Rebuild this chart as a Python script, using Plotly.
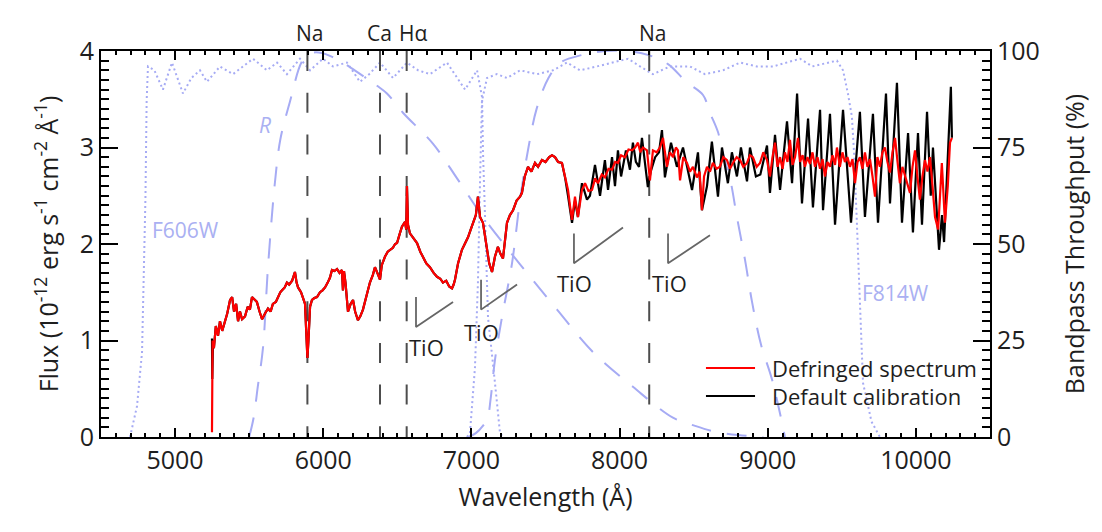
import plotly.graph_objects as go

# ---------------- data ----------------
wave_start_red = [5249, 5253]
flux_start_red = [0.05, 1.0]
wave_start_black = [5249, 5251, 5256]
flux_start_black = [1.02, 0.6, 1.0]

wave_common = [5262, 5275, 5290, 5303, 5318, 5337, 5352, 5371, 5385, 5398, 5412, 5425, 5438, 5452,
               5472, 5490, 5505, 5519, 5535, 5552, 5570, 5587, 5607, 5627, 5645, 5660, 5680, 5695,
               5710, 5722, 5740, 5755, 5770, 5790, 5809, 5820, 5830, 5850, 5863, 5877, 5885, 5893,
               5900, 5911, 5924, 5940, 5958, 5978, 5995, 6012, 6030, 6045, 6059, 6075, 6093, 6110,
               6126, 6133, 6140, 6150, 6167, 6185, 6201, 6215, 6234, 6250, 6268, 6290, 6315, 6335,
               6349, 6365, 6383, 6395, 6417, 6435, 6450, 6470, 6485, 6498, 6515, 6531, 6552, 6560,
               6565, 6572, 6585, 6600, 6615, 6633, 6655, 6673, 6695, 6720, 6745, 6768, 6790, 6808,
               6830, 6850, 6869, 6880, 6889, 6910, 6936, 6955, 6977, 6995, 7011, 7030, 7044, 7058,
               7078, 7090, 7105, 7120, 7139, 7159, 7179, 7195, 7213, 7240, 7260, 7281, 7305, 7328,
               7341, 7360, 7382, 7405, 7429, 7450, 7476, 7500, 7525, 7544, 7564, 7585, 7611]
flux_common = [0.92, 1.15, 1.05, 1.2, 1.1, 1.2, 1.28, 1.42, 1.45, 1.3, 1.38, 1.2, 1.3, 1.22,
               1.25, 1.35, 1.32, 1.45, 1.42, 1.4, 1.3, 1.22, 1.28, 1.33, 1.3, 1.38, 1.4, 1.45,
               1.5, 1.52, 1.55, 1.6, 1.58, 1.62, 1.71, 1.6, 1.55, 1.5, 1.45, 1.38, 1.1, 0.82,
               1.0, 1.35, 1.42, 1.44, 1.45, 1.5, 1.52, 1.55, 1.6, 1.65, 1.73, 1.72, 1.74, 1.7,
               1.73, 1.52, 1.72, 1.6, 1.3, 1.38, 1.42, 1.3, 1.21, 1.25, 1.32, 1.45, 1.6, 1.68,
               1.76, 1.7, 1.63, 1.78, 1.87, 1.92, 1.94, 1.96, 2.0, 2.01, 2.1, 2.18, 2.23, 2.15,
               2.6, 2.2, 2.11, 2.08, 2.05, 2.01, 1.92, 1.87, 1.8, 1.76, 1.7, 1.66, 1.64, 1.6,
               1.62, 1.56, 1.54, 1.58, 1.63, 1.8, 1.94, 2.0, 2.07, 2.15, 2.22, 2.3, 2.49, 2.28,
               2.22, 2.1, 1.94, 1.8, 1.71, 1.87, 1.97, 1.9, 1.85, 2.22, 2.3, 2.35, 2.45, 2.49,
               2.53, 2.7, 2.8, 2.75, 2.84, 2.8, 2.87, 2.85, 2.9, 2.92, 2.9, 2.85, 2.84]

wave_fringe_red = [7632, 7652, 7665, 7679, 7699, 7719, 7746, 7767, 7790, 7814, 7835, 7854, 7880, 7901,
                   7925, 7949, 7970, 7989, 8010, 8036, 8060, 8084, 8105, 8124, 8140, 8158, 8185, 8205,
                   8225, 8250, 8273, 8293, 8320, 8340, 8361, 8380, 8394, 8408, 8430, 8455, 8475, 8495,
                   8522, 8540, 8556, 8570, 8590, 8610, 8630, 8655, 8677, 8700, 8725, 8745, 8765, 8790,
                   8813, 8835, 8860, 8880, 8900, 8925, 8948, 8970, 8995, 9015, 9032, 9049, 9066, 9083,
                   9100, 9116, 9133, 9150, 9167, 9184, 9204, 9218, 9235, 9251, 9268, 9285, 9302, 9319,
                   9336, 9353, 9370, 9386, 9403, 9420, 9437, 9454, 9467, 9487, 9504, 9521, 9538, 9555,
                   9572, 9589, 9606, 9622, 9639, 9656, 9673, 9690, 9707, 9724, 9740, 9757, 9774, 9791,
                   9808, 9825, 9842, 9859, 9876, 9892, 9909, 9926, 9943, 9960, 9977, 9994, 10010, 10027,
                   10044, 10061, 10078, 10095, 10112, 10129, 10150, 10175, 10196, 10215, 10230, 10243]
flux_fringe_red = [2.69, 2.56, 2.4, 2.25, 2.49, 2.28, 2.56, 2.63, 2.55, 2.56, 2.68, 2.63, 2.72, 2.69,
                   2.78, 2.77, 2.85, 2.84, 2.92, 2.9, 2.98, 2.97, 3.0, 3.05, 2.95, 3.0, 2.97, 2.66,
                   2.97, 2.95, 3.0, 3.1, 2.8, 2.95, 2.9, 3.0, 2.97, 2.66, 2.9, 2.84, 2.75, 2.8,
                   2.69, 2.75, 2.35, 2.7, 2.8, 2.75, 2.84, 2.78, 2.8, 2.9, 2.87, 2.78, 2.84, 2.9,
                   2.87, 2.8, 2.84, 2.92, 2.9, 2.8, 2.84, 2.95, 2.87, 2.7, 2.9, 3.05, 2.8, 2.9,
                   2.78, 2.95, 2.85, 3.08, 2.82, 2.9, 3.1, 2.85, 2.92, 2.8, 2.9, 2.83, 2.95, 2.8,
                   2.9, 2.78, 2.88, 2.7, 2.85, 2.8, 2.92, 2.82, 3.0, 2.8, 2.95, 2.85, 2.9, 2.8,
                   2.88, 2.63, 2.85, 2.9, 2.78, 2.95, 2.8, 2.88, 2.7, 2.49, 2.9, 2.8, 2.95, 3.0,
                   2.85, 2.74, 2.95, 3.1, 2.85, 2.63, 2.8, 2.7, 2.6, 2.53, 2.8, 2.97, 2.7, 2.46,
                   2.7, 2.87, 2.75, 2.9, 2.6, 2.28, 2.15, 2.84, 2.22, 2.6, 3.05, 3.1]

wave_fringe_black = [7632, 7652, 7679, 7699, 7719, 7746, 7780, 7800, 7834, 7868, 7901, 7922, 7949, 7969,
                     7989, 8010, 8043, 8070, 8090, 8110, 8131, 8151, 8191, 8210, 8240, 8266, 8286, 8306,
                     8347, 8387, 8428, 8489, 8529, 8556, 8590, 8623, 8664, 8691, 8731, 8758, 8792, 8819,
                     8860, 8880, 8920, 8950, 8995, 9015, 9049, 9083, 9130, 9164, 9198, 9231, 9272, 9305,
                     9353, 9373, 9420, 9454, 9508, 9562, 9622, 9656, 9710, 9744, 9798, 9825, 9872, 9906,
                     9947, 9980, 10014, 10041, 10075, 10100, 10115, 10156, 10176, 10190, 10216, 10236, 10243]
flux_fringe_black = [2.69, 2.5, 2.22, 2.45, 2.28, 2.63, 2.46, 2.5, 2.82, 2.5, 2.87, 2.56, 2.9, 2.6,
                     2.97, 2.7, 2.97, 2.77, 3.05, 2.85, 2.8, 3.1, 2.59, 2.75, 2.9, 2.95, 3.18, 2.69,
                     3.05, 2.8, 3.0, 2.56, 2.95, 2.35, 2.6, 3.06, 2.49, 3.0, 2.63, 2.95, 2.7, 3.0,
                     2.65, 3.0, 2.7, 2.72, 3.02, 2.53, 3.13, 2.56, 3.27, 2.63, 3.56, 2.42, 3.3, 2.38,
                     3.39, 2.35, 3.35, 2.2, 3.39, 2.22, 3.37, 2.28, 3.35, 2.22, 3.56, 2.42, 3.67, 2.22,
                     3.15, 2.12, 3.15, 2.2, 3.37, 2.5, 3.0, 1.94, 2.3, 2.02, 3.0, 3.63, 3.1]

# filter throughputs (%)
f606_wave = [4696, 4743, 4777, 4784, 4790, 4800, 4808, 4817, 4860, 4918, 4979, 5053, 5110, 5168, 5215,
             5303, 5391, 5460, 5526, 5620, 5688, 5755, 5843, 5911, 5998, 6066, 6160, 6248, 6310, 6383,
             6471, 6565, 6640, 6720, 6835, 6957, 7038, 7072, 7078, 7092, 7112, 7159, 7193, 7215]
f606_thr = [0, 8, 22, 35, 48, 62, 87, 96, 95, 90, 97, 89, 93, 95, 92,
            96, 94, 96, 98, 95, 97, 94, 98, 95, 98, 96, 97, 92, 94, 97,
            93, 97, 95, 94, 97, 90, 95, 88, 74, 57, 31, 14, 1, 0]
f814_wave = [6970, 6990, 7024, 7044, 7058, 7071, 7105, 7172, 7240, 7328, 7443, 7551, 7645, 7733, 7847,
             7955, 8057, 8138, 8225, 8340, 8475, 8576, 8698, 8813, 8927, 9035, 9130, 9218, 9300, 9400,
             9467, 9508, 9541, 9568, 9582, 9600, 9622, 9643, 9700, 9757]
f814_thr = [0, 1, 18, 40, 66, 87, 93, 94, 93, 95, 94, 95, 97, 95, 96,
            97, 98, 96, 94, 96, 96, 94, 95, 97, 96, 96, 97, 98, 96, 97,
            97.5, 95, 89, 83, 74, 57, 33, 14, 4, 0]
r_wave = [5500, 5530, 5558, 5593, 5627, 5674, 5710, 5776, 5863, 5924, 5990, 6060, 6133, 6250, 6363,
          6430, 6538, 6740, 6903, 7078, 7281, 7375, 7578, 7820, 8090, 8360, 8500, 8630, 8800, 8970]
r_thr = [0, 5, 13, 23, 44, 66, 77, 87, 97.7, 99.5, 99.5, 98.5, 97, 94, 91,
         89, 84, 76, 67, 57, 47, 42.5, 33, 22, 13, 5, 3, 1.5, 0.5, 0]
i_wave = [6980, 7030, 7080, 7110, 7130, 7159, 7206, 7274, 7330, 7385, 7440, 7520, 7600, 7750, 7900,
          8050, 8190, 8327, 8450, 8563, 8610, 8664, 8700, 8745, 8792, 8846, 8894, 8954, 9028, 9089, 9116]
i_thr = [0, 1, 3, 5, 10, 20, 31, 45, 62, 75, 85, 93, 97, 99, 100,
         100, 99, 96.6, 92, 88.6, 84, 79, 73, 67, 57, 46, 35, 24, 15, 5, 0]

# spectral line markers
line_wave = [5893, 6383, 6563, 8200]
line_label = ["Na", "Ca", "Hα", "Na"]
line_label_wave = [5907, 6380, 6605, 8219]

# TiO band markers
tio_wave = [6626, 7065, 7692, 8327]
tio_top = [1.45, 1.63, 2.11, 2.11]
tio_bottom = [1.14, 1.32, 1.80, 1.80]
tio_end_wave = [6876, 7308, 8023, 8610]
tio_end_flux = [1.40, 1.58, 2.17, 2.09]
tio_text_wave = [6700, 7071, 7699, 8334]
tio_text_flux = [0.93, 1.09, 1.60, 1.60]

FONT = "Open Sans"
BLUE = "#a6abf4"
GRAY = "#4d4d4d"
TXT = "#1e1e1e"

fig = go.Figure()

# filter curves on throughput axis (y)
fig.add_trace(go.Scatter(x=f606_wave, y=f606_thr, mode="lines", yaxis="y",
                         line=dict(color=BLUE, width=2, dash="2px,3px"), showlegend=False))
fig.add_trace(go.Scatter(x=f814_wave, y=f814_thr, mode="lines", yaxis="y",
                         line=dict(color=BLUE, width=2, dash="2px,3px"), showlegend=False))
fig.add_trace(go.Scatter(x=r_wave, y=r_thr, mode="lines", yaxis="y", line_shape="spline",
                         line=dict(color=BLUE, width=2, dash="20px,16px"), showlegend=False))
fig.add_trace(go.Scatter(x=i_wave, y=i_thr, mode="lines", yaxis="y", line_shape="spline",
                         line=dict(color=BLUE, width=2, dash="20px,16px"), showlegend=False))

# vertical dashed line markers (flux axis y2)
for w in line_wave:
    fig.add_trace(go.Scatter(x=[w, w], y=[4, 0], mode="lines", yaxis="y2",
                             line=dict(color=GRAY, width=2, dash="20px,21.7px"), showlegend=False))

# TiO markers
for i in range(len(tio_wave)):
    fig.add_trace(go.Scatter(x=[tio_wave[i], tio_wave[i], tio_end_wave[i]],
                             y=[tio_top[i], tio_bottom[i], tio_end_flux[i]],
                             mode="lines", yaxis="y2",
                             line=dict(color="#666666", width=1.8), showlegend=False))

# spectra
fig.add_trace(go.Scatter(x=wave_start_black + wave_common + wave_fringe_black,
                         y=flux_start_black + flux_common + flux_fringe_black,
                         mode="lines", yaxis="y2", name="Default calibration",
                         line=dict(color="black", width=2.2), showlegend=False))
fig.add_trace(go.Scatter(x=wave_start_red + wave_common + wave_fringe_red,
                         y=flux_start_red + flux_common + flux_fringe_red,
                         mode="lines", yaxis="y2", name="Defringed spectrum",
                         line=dict(color="#ff0000", width=2.2), showlegend=False))

annotations = []
for lw, lab in zip(line_label_wave, line_label):
    annotations.append(dict(x=lw, y=1.047, xref="x", yref="paper", text=lab, showarrow=False,
                            font=dict(family=FONT, size=21, color=TXT),
                            xanchor="center", yanchor="middle"))
for tx, ty in zip(tio_text_wave, tio_text_flux):
    annotations.append(dict(x=tx, y=ty, xref="x", yref="y2", text="TiO", showarrow=False,
                            font=dict(family=FONT, size=22, color=TXT),
                            xanchor="center", yanchor="middle"))
annotations += [
    dict(x=5067, y=2.14, xref="x", yref="y2", text="F606W", showarrow=False,
         font=dict(family=FONT, size=21, color="#aab0f2"), xanchor="center", yanchor="middle"),
    dict(x=9859, y=1.49, xref="x", yref="y2", text="F814W", showarrow=False,
         font=dict(family=FONT, size=21, color="#aab0f2"), xanchor="center", yanchor="middle"),
    dict(x=5607, y=3.23, xref="x", yref="y2", text="<i>R</i>", showarrow=False,
         font=dict(family=FONT, size=21, color="#aab0f2"), xanchor="center", yanchor="middle"),
]

# legend drawn manually
leg_y = [0.1785, 0.106]
leg_col = ["#ff0000", "black"]
leg_txt = ["Defringed spectrum", "Default calibration"]
shapes = []
for yy, cc, tt in zip(leg_y, leg_col, leg_txt):
    shapes.append(dict(type="line", xref="paper", yref="paper", x0=0.6805, x1=0.7357, y0=yy, y1=yy,
                       line=dict(color=cc, width=2)))
    annotations.append(dict(x=0.7525, y=yy, xref="paper", yref="paper", text=tt, showarrow=False,
                            font=dict(family=FONT, size=22, color=TXT),
                            xanchor="left", yanchor="middle"))

axis_common = dict(showline=True, linecolor="black", linewidth=2, ticks="inside",
                   tickcolor="black", tickwidth=2, showgrid=False, zeroline=False,
                   tickfont=dict(family=FONT, size=25, color=TXT))

TITLE_FONT = dict(family=FONT, size=25, color=TXT)

fig.update_layout(
    width=1102, height=532,
    margin=dict(l=101, r=112, t=51, b=95),
    paper_bgcolor="white", plot_bgcolor="white",
    showlegend=False,
    xaxis=dict(range=[4500, 10500], tick0=0, dtick=1000, ticklen=9, mirror="ticks",
               tickformat="d",
               minor=dict(dtick=100, ticklen=4, ticks="inside", tickcolor="black", tickwidth=1.5),
               title=dict(text="Wavelength (Å)", font=TITLE_FONT, standoff=13),
               **axis_common),
    yaxis=dict(range=[0, 100], side="right", dtick=25, tick0=0, ticklen=17,
               minor=dict(dtick=2.5, ticklen=8, ticks="inside", tickcolor="black", tickwidth=1.5),
               title=dict(text="Bandpass Throughput (%)", font=TITLE_FONT, standoff=28),
               **axis_common),
    yaxis2=dict(range=[0, 4], side="left", overlaying="y", dtick=1, tick0=0, ticklen=17,
                minor=dict(dtick=0.1, ticklen=8, ticks="inside", tickcolor="black", tickwidth=1.5),
                title=dict(text="Flux (10<sup>-12</sup> erg s<sup>-1</sup> cm<sup>-2</sup> Å<sup>-1</sup>)",
                           font=TITLE_FONT, standoff=14),
                **axis_common),
    annotations=annotations,
    shapes=shapes,
)

fig.write_html("out.html")
